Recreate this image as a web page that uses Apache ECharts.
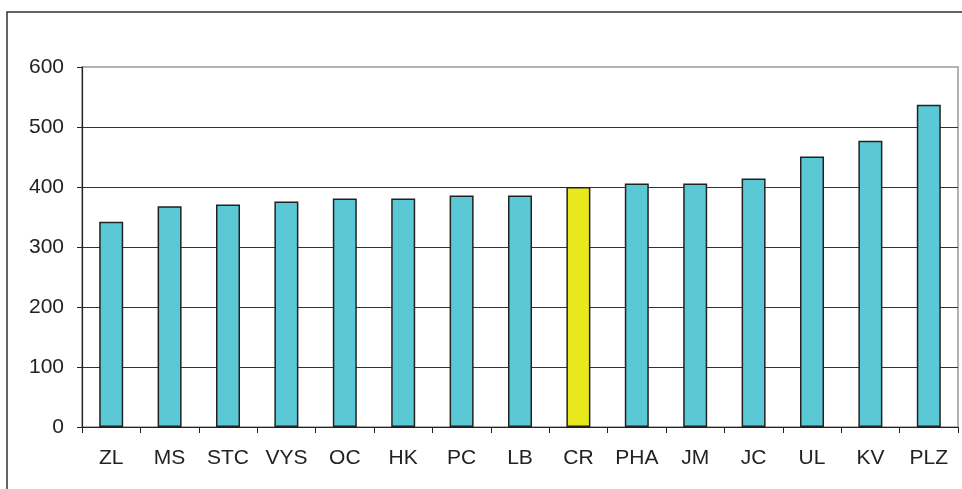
<!DOCTYPE html>
<html><head><meta charset="utf-8">
<script src="https://cdn.jsdelivr.net/npm/echarts@6/dist/echarts.min.js"></script>
<style>html,body{margin:0;padding:0;background:#fff}#c{width:962px;height:489px}</style>
</head><body><div id="c"></div>
<script>
const categories = ['ZL','MS','STC','VYS','OC','HK','PC','LB','CR','PHA','JM','JC','UL','KV','PLZ'];
const values = [342,368,371,376,381,381,386,386,400,406,406,414,451,477,537];
const highlight = 'CR';
const yTicks = [0,100,200,300,400,500,600];

const chart = echarts.init(document.getElementById('c'), null, {renderer:'canvas'});
chart.setOption({
  animation:false,
  backgroundColor:'#fff',
  graphic:[{type:'rect',shape:{x:7,y:12,width:1000,height:600},style:{fill:'none',stroke:'#333',lineWidth:1.5},z:-1}],
  grid:{left:82,right:4,top:67,bottom:62,show:true,borderColor:'#999',borderWidth:1.5,containLabel:false},
  xAxis:{type:'category',data:categories,
    axisLine:{lineStyle:{color:'#222',width:1.2}},
    axisTick:{show:true,length:6,alignWithLabel:false,lineStyle:{color:'#222'}},
    axisLabel:{color:'#222',fontSize:21,fontFamily:'Liberation Sans, Arial, sans-serif',margin:21}},
  yAxis:{type:'value',min:yTicks[0],max:yTicks[yTicks.length-1],interval:100,
    axisLine:{show:true,lineStyle:{color:'#222',width:1.2}},
    axisTick:{show:true,length:5,lineStyle:{color:'#222'}},
    axisLabel:{color:'#222',fontSize:21,fontFamily:'Liberation Sans, Arial, sans-serif',margin:18},
    splitLine:{show:true,showMinLine:false,showMaxLine:false,lineStyle:{color:'#333',width:1}}},
  series:[{type:'bar',barWidth:24,
    data:values.map((v,i)=>({value:v,itemStyle:{color:categories[i]===highlight?'#e8e81e':'#5bc8d6'}})),
    itemStyle:{borderColor:'#222',borderWidth:1.5}}]
});
</script></body></html>
